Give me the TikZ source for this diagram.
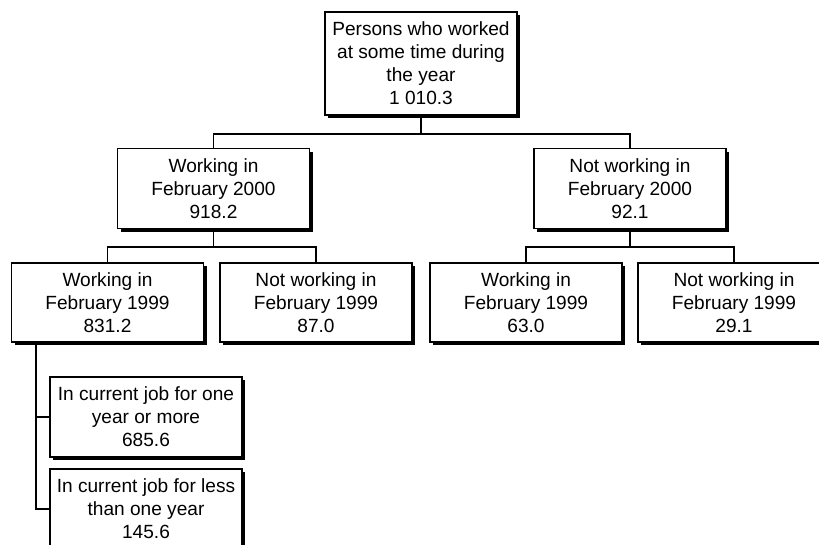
\documentclass[tikz,border=0pt]{standalone}
\usepackage{fontspec}
\setmainfont{Liberation Sans}
\usetikzlibrary{shadows}
\begin{document}
\begin{tikzpicture}[x=1pt,y=-1pt,
  box/.style={draw=black,line width=1.7pt,fill=white,minimum width=192pt,minimum height=80pt,
    inner sep=0pt,align=center,font=\fontsize{19.1}{23}\selectfont,
    drop shadow={shadow xshift=3pt,shadow yshift=-3pt,fill=black,opacity=1}},
  conn/.style={draw=black,line width=1.1pt}]
\useasboundingbox (0,0) rectangle (819,544);
\clip (0,0) rectangle (819,544);
\fill[white] (0,0) rectangle (819,544);
\node[box,minimum height=103pt] (top) at (421,63.5) {Persons who worked\\at some time during\\the year\\1 010.3};
\node[box] (L2a) at (213.5,188.5) {Working in\\February 2000\\918.2};
\node[box] (L2b) at (630,188.5) {Not working in\\February 2000\\92.1};
\node[box,minimum height=79pt] (L3a) at (107.5,302.5) {Working in\\February 1999\\831.2};
\node[box,minimum height=79pt] (L3b) at (316,302.5) {Not working in\\February 1999\\87.0};
\node[box,minimum height=79pt] (L3c) at (526,302.5) {Working in\\February 1999\\63.0};
\node[box,minimum height=79pt] (L3d) at (734,302.5) {Not working in\\February 1999\\29.1};
\node[box] (L4a) at (146,417) {In current job for one\\year or more\\685.6};
\node[box] (L4b) at (146,509) {In current job for less\\than one year\\145.6};
\coordinate (j1) at (421,134);
\coordinate (j2) at (213.5,247);
\coordinate (j3) at (630,247);
\coordinate (t0) at (36,342);
\draw[conn] (top.south) -- (j1);
\draw[conn] (L2a.north) |- (j1) -| (L2b.north);
\draw[conn] (L2a.south) -- (j2);
\draw[conn] (L3a.north) |- (j2) -| (L3b.north);
\draw[conn] (L2b.south) -- (j3);
\draw[conn] (L3c.north) |- (j3) -| (L3d.north);
\draw[conn] (t0) |- (L4a.west);
\draw[conn] (t0) |- (L4b.west);
\end{tikzpicture}
\end{document}
